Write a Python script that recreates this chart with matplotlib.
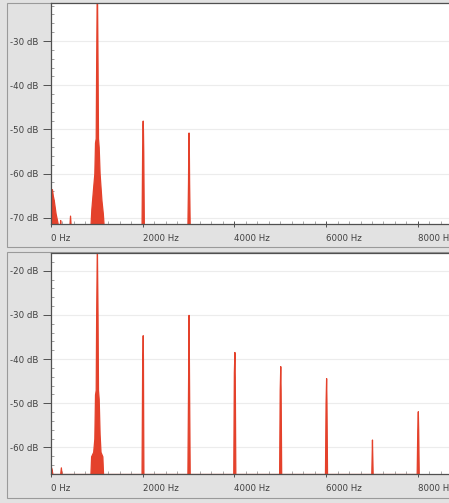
import matplotlib
matplotlib.use("Agg")
import matplotlib.pyplot as plt
from matplotlib.patches import Rectangle
from matplotlib.ticker import MultipleLocator, FuncFormatter

# spectrum points (Hz, dB)
top_freq = [0, 20, 40, 60, 80, 100, 120, 140, 160,
            190, 200, 210, 400, 415, 430,
            860, 880, 920, 945, 960, 975, 985, 1000, 1015, 1025, 1040, 1060, 1100, 1130, 1150,
            1975, 1988, 1995, 2000, 2005, 2012, 2025,
            2975, 2988, 2995, 3000, 3005, 3012, 3025]
top_db = [-64, -63.5, -65, -66, -67.5, -69, -70, -71, -72,
          -72, -70.5, -72, -72, -69.5, -72,
          -72, -68, -63, -60, -53, -52, -35, -15, -35, -52, -54, -60, -66, -69, -72,
          -72, -54, -49, -48, -50, -55, -72,
          -72, -62, -52, -50.7, -53, -62, -72]

bot_freq = [0, 15, 30, 200, 215, 230,
            860, 875, 920, 945, 960, 975, 985, 1000, 1015, 1025, 1040, 1060, 1080, 1120, 1135,
            1975, 1988, 1995, 2000, 2005, 2015,
            2975, 2985, 2993, 3000, 3006, 3015, 3025,
            3975, 3988, 4000, 4008, 4020,
            4975, 4988, 5000, 5008, 5020,
            5975, 5988, 6000, 6008, 6020,
            6985, 6995, 7000, 7005, 7015,
            7975, 7988, 8000, 8008, 8020]
bot_db = [-64.5, -65, -66, -66, -64.5, -66,
          -66, -62, -61, -58, -48, -47, -30, -14, -30, -47, -49, -57, -61, -62, -66,
          -66, -41, -38, -34.6, -40, -66,
          -66, -52, -40, -30, -38, -52, -66,
          -66, -43, -38.4, -44, -66,
          -66, -47, -41.6, -47, -66,
          -66, -50, -44.3, -50, -66,
          -66, -61, -58.2, -61, -66,
          -66, -56, -51.8, -56, -66]

panels = [
    (top_freq, top_db, (-71.4, -21.4), [-70, -60, -50, -40, -30]),
    (bot_freq, bot_db, (-66, -16), [-60, -50, -40, -30, -20]),
]
x_ticks = [0, 2000, 4000, 6000, 8000]

W, H = 449, 503
fig = plt.figure(figsize=(W / 100, H / 100), dpi=100)
fig.patch.set_facecolor("#e2e2e2")

# panel frames (pixels: x0, y_top, y_bottom) and plot areas
frames = [(7, 3, 247), (7, 252, 498)]
areas = [(51, 3, 224), (51, 253, 474)]

red = "#e4412b"
dark = "#505050"

for (freq, db, ylim, yt), (fx, fy0, fy1), (ax0, ay0, ay1) in zip(panels, frames, areas):
    fig.patches.append(Rectangle((fx / W, 1 - fy1 / H), 1.0, (fy1 - fy0) / H,
                                 transform=fig.transFigure, facecolor="#e2e2e2",
                                 edgecolor="#9a9a9a", linewidth=0.8, zorder=-5))
    ax = fig.add_axes([ax0 / W, 1 - ay1 / H, 1 - ax0 / W, (ay1 - ay0) / H])
    ax.set_zorder(2)
    ax.set_facecolor("white")
    ax.fill_between(freq, db, ylim[0] - 5, color=red, linewidth=0.9, edgecolor=red)
    ax.set_xlim(0, 8680)
    ax.set_ylim(*ylim)

    ax.set_yticks(yt)
    ax.yaxis.set_major_formatter(FuncFormatter(lambda v, p: f"{v:.0f} dB"))
    ax.yaxis.set_minor_locator(MultipleLocator(2))
    ax.set_xticks(x_ticks)
    ax.set_xticklabels([f"{t} Hz" for t in x_ticks], ha="left")
    ax.xaxis.set_minor_locator(MultipleLocator(250))
    ax.grid(axis="y", color="#ececec", linewidth=0.8)
    ax.set_axisbelow(True)

    ax.tick_params(axis="y", which="major", direction="out", length=6, width=0.7,
                   color=dark, labelsize=6.2, labelcolor="#404040", pad=3)
    ax.tick_params(axis="y", which="minor", direction="in", length=2, width=0.5, color="#777777")
    ax.tick_params(axis="x", which="major", direction="inout", length=5, width=0.7,
                   color=dark, labelsize=6.2, labelcolor="#404040", pad=5)
    ax.tick_params(axis="x", which="minor", direction="in", length=2, width=0.5, color="#888888")

    for s in ["left", "top", "bottom"]:
        ax.spines[s].set_color(dark)
        ax.spines[s].set_linewidth(0.9)
    ax.spines["right"].set_visible(False)

fig.savefig("out.png", dpi=100, facecolor=fig.get_facecolor())
